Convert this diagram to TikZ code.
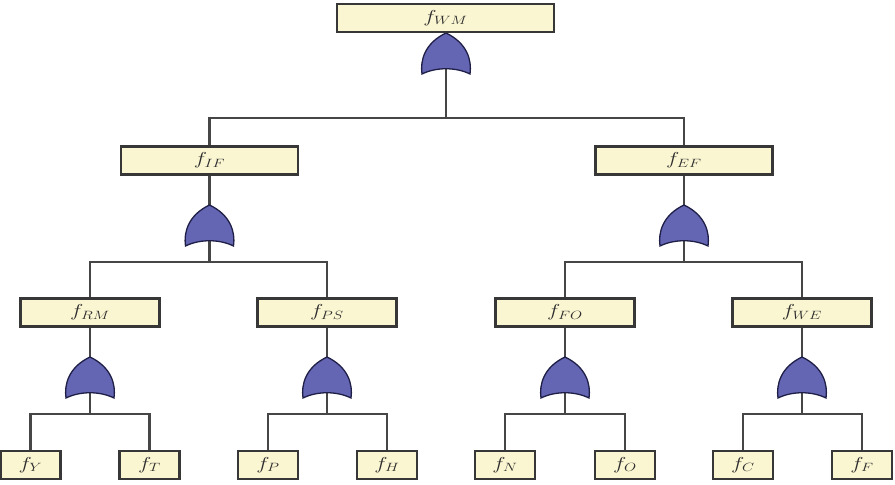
\documentclass[tikz,border=0pt]{standalone}
\usetikzlibrary{calc}
\definecolor{boxfill}{RGB}{251,246,210}
\definecolor{boxline}{RGB}{55,55,55}
\definecolor{gatefill}{RGB}{100,102,180}
\definecolor{gateline}{RGB}{30,30,70}
\definecolor{wire}{RGB}{70,70,70}
\definecolor{txt}{RGB}{45,45,45}
\newcommand{\lbl}[1]{\scalebox{1.3}[1]{$f_{#1}$}}
\tikzset{
  evbox/.style={draw=boxline, line width=1.8pt, fill=boxfill, inner sep=0pt,
    minimum height=27pt, text=txt, font=\fontsize{18}{20}\selectfont},
  bigbox/.style={evbox, minimum width=216pt},
  midbox/.style={evbox, minimum width=176pt},
  smallbox/.style={evbox, minimum width=138pt},
  leafbox/.style={evbox, minimum width=59pt},
  wireline/.style={draw=wire, line width=2.7pt},
  orgate/.pic={
    \path[fill=gatefill, draw=gateline, line width=1.3pt]
      (-24,0) .. controls (-26,-14) and (-21,-31) .. (0,-41)
      .. controls (21,-31) and (26,-14) .. (24,0)
      .. controls (10,-7) and (-10,-7) .. cycle;
  }
}
\begin{document}
\begin{tikzpicture}[x=1pt,y=-1pt]
\useasboundingbox (0,0) rectangle (895,485);
% boxes
\node[bigbox] (WM) at (445.5,18) {\lbl{WM}};
\node[midbox] (IF) at (209.5,160.5) {\lbl{IF}};
\node[midbox] (EF) at (684,160.5) {\lbl{EF}};
\node[smallbox] (RM) at (90,312.5) {\lbl{RM}};
\node[smallbox] (PS) at (327,312.5) {\lbl{PS}};
\node[smallbox] (FO) at (565,312.5) {\lbl{FO}};
\node[smallbox] (WE) at (802,312.5) {\lbl{WE}};
\node[leafbox] (Y) at (30.5,465) {\lbl{Y}};
\node[leafbox] (T) at (149.5,465) {\lbl{T}};
\node[leafbox] (P) at (268,465) {\lbl{P}};
\node[leafbox] (H) at (387,465) {\lbl{H}};
\node[leafbox] (N) at (505,465) {\lbl{N}};
\node[leafbox] (O) at (625,465) {\lbl{O}};
\node[leafbox] (C) at (743,465) {\lbl{C}};
\node[leafbox] (F) at (862,465) {\lbl{F}};
% gate bottoms and junctions
\coordinate (gWM) at (446,74);
\coordinate (jWM) at (446,118);
\coordinate (gIF) at (209.5,246);
\coordinate (jIF) at (209.5,262);
\coordinate (gEF) at (684,246);
\coordinate (jEF) at (684,262);
\coordinate (gRM) at (90,398);
\coordinate (jRM) at (90,414);
\coordinate (gPS) at (327,398);
\coordinate (jPS) at (327,414);
\coordinate (gFO) at (565,398);
\coordinate (jFO) at (565,414);
\coordinate (gWE) at (802,398);
\coordinate (jWE) at (802,414);
% wires
\foreach \p/\g in {WM/gWM,IF/gIF,EF/gEF,RM/gRM,PS/gPS,FO/gFO,WE/gWE}
  \draw[wireline] (\p.south) -- ($(\g)+(0,-30)$);
\foreach \g/\j in {gWM/jWM,gIF/jIF,gEF/jEF,gRM/jRM,gPS/jPS,gFO/jFO,gWE/jWE}
  \draw[wireline] ($(\g)+(0,-5)$) -- (\j);
\draw[wireline] (jWM) -| (IF.north);
\draw[wireline] (jWM) -| (EF.north);
\draw[wireline] (jIF) -| (RM.north);
\draw[wireline] (jIF) -| (PS.north);
\draw[wireline] (jEF) -| (FO.north);
\draw[wireline] (jEF) -| (WE.north);
\draw[wireline] (jRM) -| (Y.north);
\draw[wireline] (jRM) -| (T.north);
\draw[wireline] (jPS) -| (P.north);
\draw[wireline] (jPS) -| (H.north);
\draw[wireline] (jFO) -| (N.north);
\draw[wireline] (jFO) -| (O.north);
\draw[wireline] (jWE) -| (C.north);
\draw[wireline] (jWE) -| (F.north);
% gates
\foreach \g in {gWM,gIF,gEF,gRM,gPS,gFO,gWE}
  \pic at (\g) {orgate};
% redraw box outlines over wire ends
\foreach \n in {WM,IF,EF,RM,PS,FO,WE,Y,T,P,H,N,O,C,F}
  \draw[draw=boxline, line width=1.8pt] (\n.north west) rectangle (\n.south east);
\end{tikzpicture}
\end{document}
